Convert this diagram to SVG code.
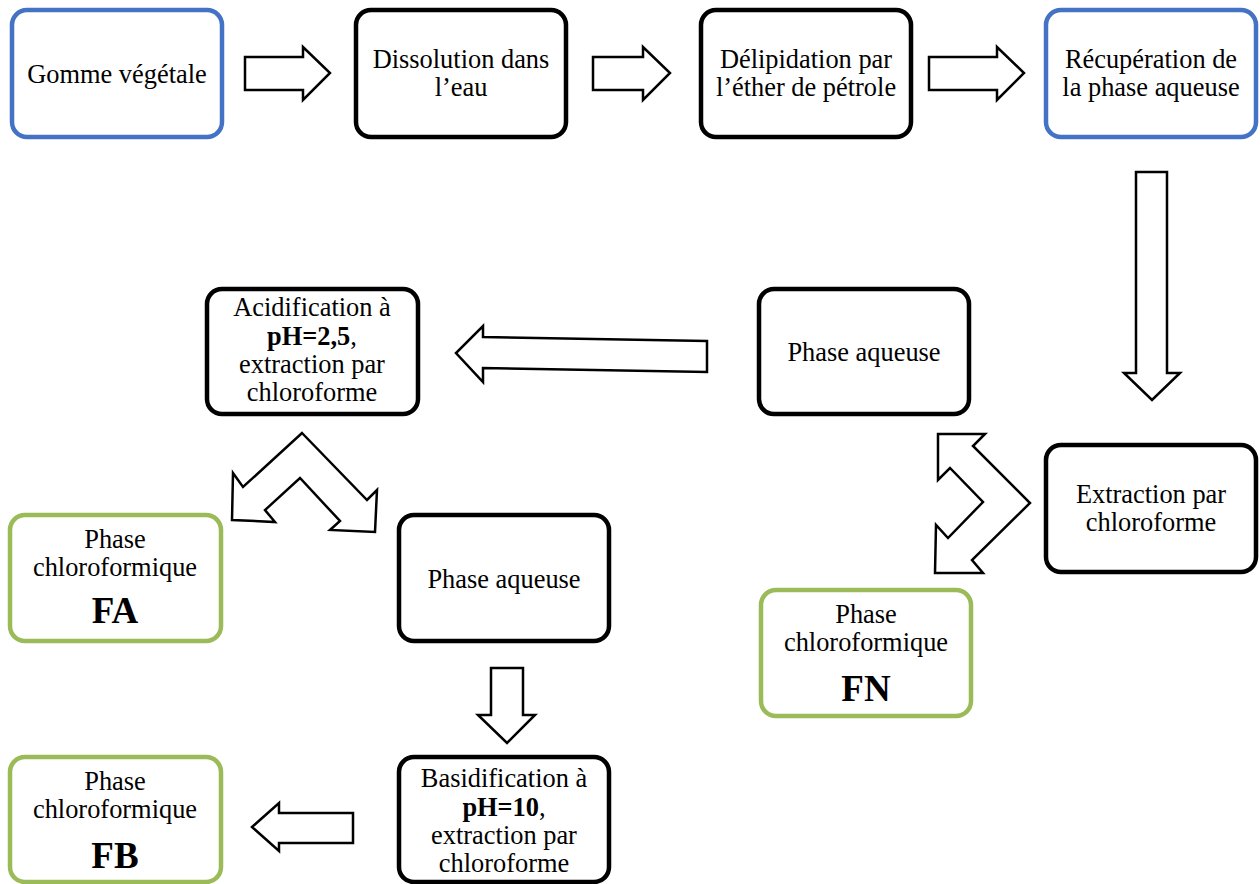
<svg xmlns="http://www.w3.org/2000/svg" width="1260" height="884" viewBox="0 0 1260 884">
<style>
.box{fill:#fff;stroke-width:4.5}
.blk{stroke:#000}
.blu{stroke:#4472c4}
.grn{stroke:#9bbb59}
.arr{fill:#fff;stroke:#000;stroke-width:2.5;stroke-linejoin:miter}
text{font-family:"Liberation Serif","Times New Roman",serif;font-size:26.4px;fill:#000;text-anchor:middle}
.big{font-size:37px;font-weight:bold}
.b{font-weight:bold}
</style>
<rect width="1260" height="884" fill="#fff"/>
<g id="connectors">
<polygon class="arr" points="245,57 303,57 303,47 330,73 303,100 303,90 245,90"/>
<polygon class="arr" points="593,57 643,57 643,47 670,73 643,100 643,90 593,90"/>
<polygon class="arr" points="929,57 997,57 997,47 1024,73 997,100 997,90 929,90"/>
<polygon class="arr" points="1136,172 1167,172 1167,373 1180,373 1152,400 1124,373 1136,373"/>
<polygon class="arr" points="707,341 483,337 483,326 456,353 483,382 483,368 707,372"/>
<polygon class="arr" points="491,668 523,668 523,715 535,715 507,743 478,715 491,715"/>
<polygon class="arr" points="353,813 279,813 279,803 252,827 279,851 279,843 353,843"/>
<polygon class="arr" points="302,433 367,500 377,490 375,532 330,530 340,521 300,478 265,510 275,522 232,520 233,473 243,487"/>
<polygon class="arr" points="938,434 985,434 973,446 1030,503 972,560 983,573 935,573 936,525 948,538 983,502 950,468 938,480"/>
</g>
<g id="n1"><rect class="box blu" x="12" y="10" width="210" height="127" rx="15"/><text x="117" y="83">Gomme végétale</text></g>
<g id="n2"><rect class="box blk" x="356" y="10" width="210" height="127" rx="15"/><text x="461" y="68">Dissolution dans</text><text x="461" y="96">l’eau</text></g>
<g id="n3"><rect class="box blk" x="701" y="10" width="210" height="127" rx="15"/><text x="806" y="68">Délipidation par</text><text x="806" y="96">l’éther de pétrole</text></g>
<g id="n4"><rect class="box blu" x="1046" y="10" width="210" height="127" rx="15"/><text x="1151" y="68">Récupération de</text><text x="1151" y="96">la phase aqueuse</text></g>
<g id="n5"><rect class="box blk" x="1046" y="445" width="210" height="127" rx="15"/><text x="1151" y="503">Extraction par</text><text x="1151" y="531">chloroforme</text></g>
<g id="n6"><rect class="box blk" x="759" y="289" width="210" height="125" rx="15"/><text x="864" y="361">Phase aqueuse</text></g>
<g id="n7"><rect class="box blk" x="207" y="289" width="211" height="125" rx="15"/><text x="312" y="316">Acidification à</text><text x="312" y="345"><tspan class="b">pH=2,5</tspan>,</text><text x="312" y="373">extraction par</text><text x="312" y="401">chloroforme</text></g>
<g id="n8"><rect class="box grn" x="10" y="515" width="211" height="126" rx="15"/><text x="115" y="548">Phase</text><text x="115" y="576">chloroformique</text><text class="big" x="115" y="623">FA</text></g>
<g id="n9"><rect class="box blk" x="399" y="515" width="210" height="126" rx="15"/><text x="504" y="588">Phase aqueuse</text></g>
<g id="n10"><rect class="box grn" x="761" y="590" width="210" height="126" rx="15"/><text x="866" y="623">Phase</text><text x="866" y="651">chloroformique</text><text class="big" x="866" y="701">FN</text></g>
<g id="n11"><rect class="box blk" x="399" y="757" width="210" height="125" rx="15"/><text x="504" y="787">Basidification à</text><text x="504" y="816"><tspan class="b">pH=10</tspan>,</text><text x="504" y="844">extraction par</text><text x="504" y="872">chloroforme</text></g>
<g id="n12"><rect class="box grn" x="10" y="757" width="211" height="125" rx="15"/><text x="115" y="790">Phase</text><text x="115" y="818">chloroformique</text><text class="big" x="115" y="868">FB</text></g>
</svg>
